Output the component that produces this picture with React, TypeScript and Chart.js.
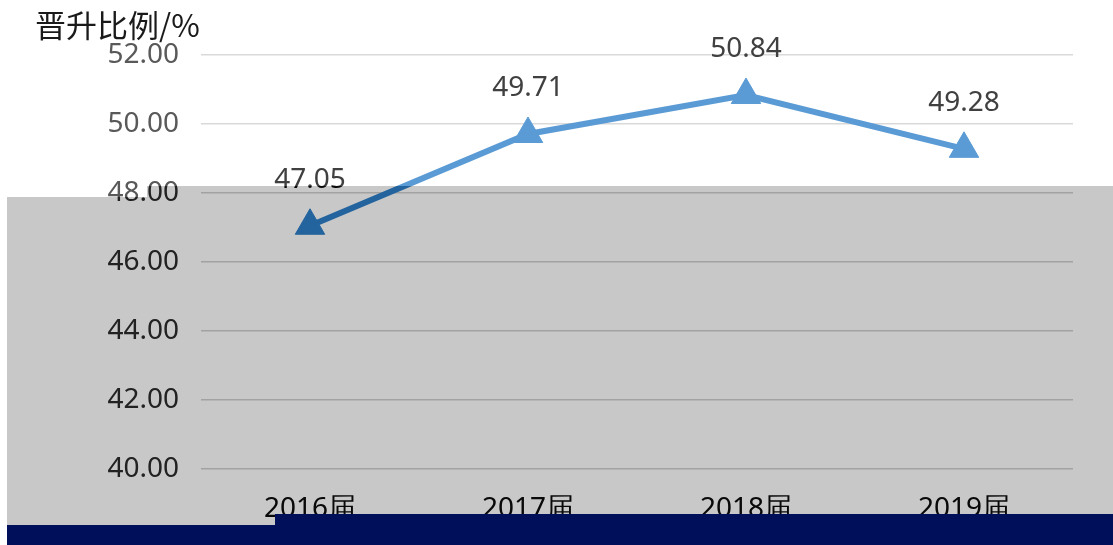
import React, { useEffect, useRef } from "react";
import { Chart, registerables } from "chart.js";

Chart.register(...registerables);

const categories = ["2016届", "2017届", "2018届", "2019届"];
const values = [47.05, 49.71, 50.84, 49.28];
const valueLabels = ["47.05", "49.71", "50.84", "49.28"];
const yTicks = [40, 42, 44, 46, 48, 50, 52];
const yTitle = "晋升比例/%";

const FONT = "'Noto Sans', 'Open Sans', sans-serif";

function grayPath(ctx: CanvasRenderingContext2D, w: number, h: number) {
  ctx.beginPath();
  ctx.moveTo(7, 197);
  ctx.lineTo(147, 197);
  ctx.lineTo(147, 186);
  ctx.lineTo(w, 186);
  ctx.lineTo(w, h);
  ctx.lineTo(7, h);
  ctx.closePath();
}

const overlayPlugin = {
  id: "overlay",
  beforeDraw(chart: any) {
    const ctx = chart.ctx;
    ctx.save();
    ctx.fillStyle = "#ffffff";
    ctx.fillRect(0, 0, chart.width, chart.height);
    ctx.restore();
  },
  afterDatasetsDraw(chart: any) {
    const ctx = chart.ctx;
    const meta = chart.getDatasetMeta(0);
    ctx.save();
    ctx.fillStyle = "#404040";
    ctx.font = `28px ${FONT}`;
    ctx.textAlign = "center";
    ctx.textBaseline = "middle";
    meta.data.forEach((el: any, i: number) => {
      ctx.fillText(valueLabels[i], el.x, el.y - 46);
    });
    ctx.restore();
  },
  afterDraw(chart: any) {
    const ctx = chart.ctx;
    const w = chart.width;
    const h = chart.height;
    ctx.save();
    // title
    ctx.fillStyle = "#1a1a1a";
    ctx.font = `31px 'Noto Sans CJK SC', serif`;
    ctx.textAlign = "left";
    ctx.textBaseline = "middle";
    ctx.fillText(yTitle, 35, 25);
    // gray overlay (burn + multiply)
    ctx.fillStyle = "#c8c8c8";
    ctx.globalCompositeOperation = "color-burn";
    grayPath(ctx, w, h);
    ctx.fill();
    ctx.globalCompositeOperation = "multiply";
    grayPath(ctx, w, h);
    ctx.fill();
    ctx.globalCompositeOperation = "source-over";
    // navy band
    ctx.fillStyle = "#000f5a";
    ctx.beginPath();
    ctx.moveTo(7, 525);
    ctx.lineTo(275, 525);
    ctx.lineTo(275, 514);
    ctx.lineTo(w, 514);
    ctx.lineTo(w, h);
    ctx.lineTo(7, h);
    ctx.closePath();
    ctx.fill();
    ctx.restore();
  },
};

export default function App() {
  const ref = useRef<HTMLCanvasElement>(null);
  useEffect(() => {
    if (!ref.current) return;
    const chart = new Chart(ref.current, {
      type: "line",
      data: {
        labels: categories,
        datasets: [
          {
            data: values,
            borderColor: "#5b9bd5",
            backgroundColor: "#5b9bd5",
            borderWidth: 6,
            pointStyle: "triangle",
            pointRadius: 17,
            pointBorderWidth: 1,
            pointBackgroundColor: "#5b9bd5",
            pointBorderColor: "#5b9bd5",
            tension: 0,
          },
        ],
      },
      options: {
        animation: false,
        responsive: false,
        maintainAspectRatio: false,
        layout: { padding: { top: 55, right: 40, left: 0, bottom: 0 } },
        plugins: {
          legend: { display: false },
          tooltip: { enabled: false },
          title: { display: false },
        },
        scales: {
          x: {
            offset: true,
            grid: { display: false, drawTicks: false },
            border: { display: false },
            ticks: {
              color: "#404040",
              font: { size: 28, family: FONT },
              padding: 23,
              maxRotation: 0,
            },
            afterFit(axis: any) {
              axis.height = 76;
            },
          },
          y: {
            min: 40,
            max: 52,
            afterBuildTicks(axis: any) {
              axis.ticks = yTicks.map((v) => ({ value: v }));
            },
            grid: { color: "#d9d9d9", lineWidth: 1.5, drawTicks: false },
            border: { display: false },
            ticks: {
              color: "#595959",
              font: { size: 28, family: FONT },
              padding: 22,
              callback: (v: any) => Number(v).toFixed(2),
            },
            afterFit(axis: any) {
              axis.width = 201;
            },
          },
        },
      },
      plugins: [overlayPlugin],
    });
    return () => chart.destroy();
  }, []);
  return (
    <div style={{ position: "absolute", left: 0, top: 0, width: 1113, height: 545, background: "#fff" }}>
      <canvas ref={ref} width={1113} height={545} style={{ width: 1113, height: 545 }} />
    </div>
  );
}
